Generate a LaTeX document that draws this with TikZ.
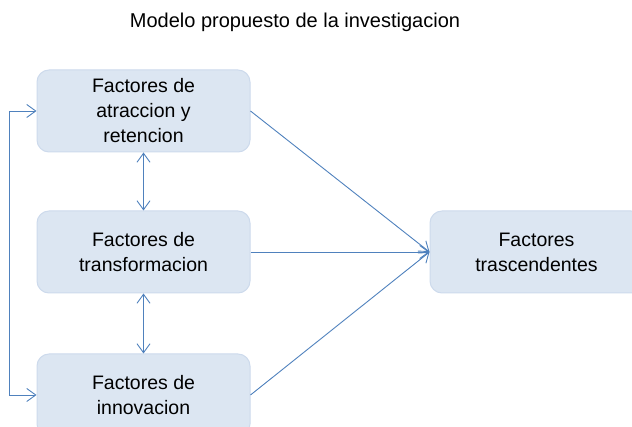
\documentclass[tikz,border=0pt]{standalone}
\usepackage{fontspec}
\setmainfont{Liberation Sans}
\usetikzlibrary{positioning,arrows.meta}
\definecolor{linkblue}{RGB}{79,129,189}
\definecolor{boxfill}{RGB}{220,230,242}
\definecolor{boxline}{RGB}{205,218,236}

\tikzset{
  factor/.style={draw=boxline, fill=boxfill, rounded corners=12pt, line width=1pt,
    minimum width=213pt, minimum height=82pt, align=center,
    font=\fontsize{19.5}{25}\selectfont},
  link/.style={linkblue, line width=0.9pt},
  tip/.style={-{Straight Barb[length=9pt,width=13pt]}}
}

\begin{document}
\begin{tikzpicture}[x=1pt,y=-1pt]

  \useasboundingbox (0,0) rectangle (632,427);

  % Title
  \node[anchor=base, font=\fontsize{20}{24}\selectfont] (title) at (295,28)
    {Modelo propuesto de la investigacion};

  % Boxes
  \node[factor] (atraccion) at (143.5,111) {Factores de\\atraccion y\\retencion};
  \node[factor, below=58pt of atraccion] (transf) {Factores de\\transformacion};
  \node[factor, below=60pt of transf] (innov) {Factores de\\innovacion};
  \node[factor, right=179pt of transf] (trasc) {Factores\\trascendentes};

  % Links between the left boxes
  \draw[link, {Straight Barb[length=9pt,width=13pt]}-{Straight Barb[length=9pt,width=13pt]}]
    (atraccion.south) -- (transf.north);
  \draw[link, {Straight Barb[length=9pt,width=13pt]}-{Straight Barb[length=9pt,width=13pt]}]
    (transf.south) -- (innov.north);

  % Feedback loop on the left
  \draw[link, {Straight Barb[length=9pt,width=13pt]}-{Straight Barb[length=9pt,width=13pt]}]
    (atraccion.west) -- ++(-27,0) |- (innov.west);

  % Links to the right box
  \draw[link, tip] (atraccion.east) -- (trasc.west);
  \draw[link, tip] (transf.east) -- (trasc.west);
  \draw[link, tip] (innov.east) -- (trasc.west);

\end{tikzpicture}
\end{document}
